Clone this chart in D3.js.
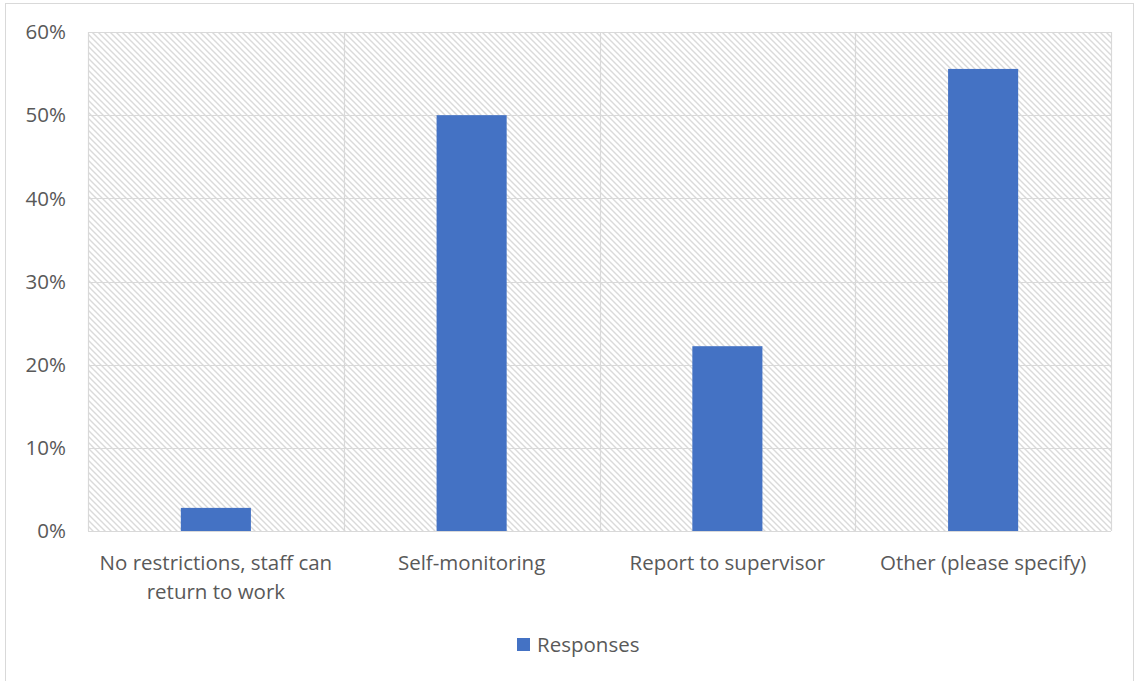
<!DOCTYPE html>
<html>
<head>
<meta charset="utf-8">
<script src="https://cdn.jsdelivr.net/npm/d3@7"></script>
<style>
  html, body { margin: 0; padding: 0; background: #fff; }
  svg { display: block; font-family: "Open Sans", Lato, sans-serif; }
</style>
</head>
<body>
<svg id="chart" width="1135" height="681"></svg>
<script>
// Survey responses by action taken
const categories = [
  ["No restrictions, staff can", "return to work"],
  ["Self-monitoring"],
  ["Report to supervisor"],
  ["Other (please specify)"]
];
const responses = [0.0278, 0.50, 0.2222, 0.5556];
const yTicks = [0, 0.1, 0.2, 0.3, 0.4, 0.5, 0.6];
const seriesName = "Responses";

const svg = d3.select("#chart");
const margin = { left: 88, right: 24, top: 32, bottom: 150 };
const W = 1135, H = 681;
const x0 = margin.left, x1 = W - margin.right;
const y0 = H - margin.bottom, y1 = margin.top;
const fontSize = 20.5;

const x = d3.scaleBand().domain(d3.range(categories.length)).range([x0, x1]).padding(0);
const y = d3.scaleLinear().domain([0, 0.6]).range([y0, y1]);

// Outer chart frame
svg.append("rect")
  .attr("x", 5.5).attr("y", 3.5).attr("width", 1128).attr("height", 700)
  .attr("fill", "none").attr("stroke", "#d9d9d9");

// Hatched plot background
const defs = svg.append("defs");
const pat = defs.append("pattern")
  .attr("id", "hatch").attr("patternUnits", "userSpaceOnUse")
  .attr("width", 6).attr("height", 6);
pat.append("rect").attr("width", 6).attr("height", 6).attr("fill", "#fff");
pat.append("path").attr("d", "M-1,-1 L7,7 M-1,5 L1,7 M5,-1 L7,1")
  .attr("stroke", "#dadada").attr("stroke-width", 1.4);

svg.append("rect")
  .attr("x", x0).attr("y", y1).attr("width", x1 - x0).attr("height", y0 - y1)
  .attr("fill", "url(#hatch)");

// Horizontal gridlines
svg.append("g").selectAll("line").data(yTicks).join("line")
  .attr("x1", x0).attr("x2", x1)
  .attr("y1", d => Math.round(y(d)) + 0.5).attr("y2", d => Math.round(y(d)) + 0.5)
  .attr("stroke", "#d9d9d9").attr("stroke-width", 1.2);

// Vertical category separators
const seps = d3.range(categories.length + 1).map(i => i < categories.length ? x(i) : x1);
svg.append("g").selectAll("line").data(seps).join("line")
  .attr("x1", d => Math.round(d) + 0.5).attr("x2", d => Math.round(d) + 0.5)
  .attr("y1", y1).attr("y2", y0)
  .attr("stroke", "#d9d9d9").attr("stroke-width", 1.2);

// Bars
const barW = x.bandwidth() * 0.274;
svg.append("g").selectAll("rect").data(responses).join("rect")
  .attr("x", (d, i) => x(i) + (x.bandwidth() - barW) / 2)
  .attr("y", d => y(d))
  .attr("width", barW)
  .attr("height", d => y(0) - y(d))
  .attr("fill", "#4472c4");

// Y axis labels
const fmt = d3.format(".0%");
svg.append("g").selectAll("text").data(yTicks).join("text")
  .attr("x", 66).attr("y", d => y(d))
  .attr("dy", "0.35em")
  .attr("text-anchor", "end")
  .attr("fill", "#595959").attr("font-size", fontSize)
  .text(d => fmt(d));

// Category labels
const cat = svg.append("g").selectAll("text").data(categories).join("text")
  .attr("x", (d, i) => x(i) + x.bandwidth() / 2)
  .attr("y", 570)
  .attr("text-anchor", "middle")
  .attr("fill", "#595959").attr("font-size", fontSize);
cat.selectAll("tspan").data(d => d).join("tspan")
  .attr("x", function() { return d3.select(this.parentNode).attr("x"); })
  .attr("dy", (d, i) => i === 0 ? 0 : 29)
  .text(d => d);

// Legend
svg.append("rect").attr("x", 517).attr("y", 638).attr("width", 13).attr("height", 13).attr("fill", "#4472c4");
svg.append("text").attr("x", 537).attr("y", 645).attr("dy", "0.35em")
  .attr("fill", "#595959").attr("font-size", fontSize).text(seriesName);
</script>
</body>
</html>
